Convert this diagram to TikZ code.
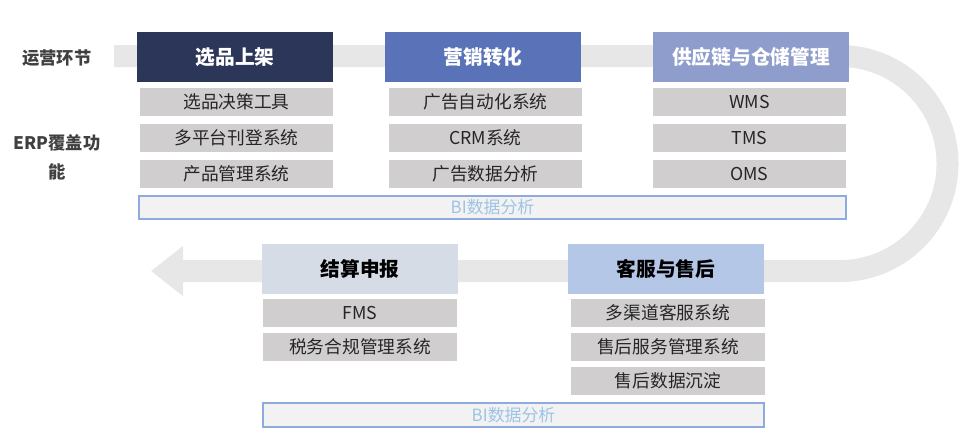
\documentclass[tikz,border=0pt]{standalone}
\usepackage{fontspec}
\setmainfont{Noto Sans CJK SC}
\usetikzlibrary{arrows.meta, positioning}

\definecolor{navyhead}{HTML}{2B3658}
\definecolor{bluehead}{HTML}{5A72B8}
\definecolor{lilahead}{HTML}{8F9DCC}
\definecolor{grayhead}{HTML}{D6DCE5}
\definecolor{skyhead}{HTML}{B4C7E7}
\definecolor{itemgray}{HTML}{D0CECE}
\definecolor{bandgray}{HTML}{E7E7E7}
\definecolor{biline}{HTML}{8FAADC}
\definecolor{bifill}{HTML}{F2F2F2}
\definecolor{bitext}{HTML}{9DC3E6}

\begin{document}
\begin{tikzpicture}[
    x=0.025cm, y=-0.025cm,
    head/.style={minimum width=4.9cm, minimum height=1.25cm, inner sep=0pt, font=\fontsize{14}{16}\selectfont\bfseries},
    item/.style={fill=itemgray, minimum width=4.825cm, minimum height=0.7cm, inner sep=0pt, text=black!85, font=\fontsize{12.6}{15}\selectfont},
    bibox/.style={draw=biline, line width=1.4pt, fill=bifill, minimum height=0.58cm, inner sep=0pt, text=bitext, font=\fontsize{12}{14}\selectfont},
    label/.style={align=center, text=black!75, font=\fontsize{12.3}{20.6}\selectfont\bfseries},
    >=Stealth
  ]
  \useasboundingbox (0,0) rectangle (972,435);

  % --- flow band behind the stages ---
  \draw[bandgray, line width=0.55cm, -{Triangle[length=0.8cm, width=1.2cm]}]
    (114,56) -- (840,56) arc[start angle=90, end angle=-90, radius=2.6875cm] -- (151,271);

  % --- row labels ---
  \node[label] (ops) at (57,58) {运营环节};
  \node[label] (erp) at (57,157) {ERP覆盖功\\能};

  % --- Stage 1: 选品上架 ---
  \node[head, fill=navyhead, text=white] (h1) at (235,57) {选品上架};
  \foreach \t [count=\i] in {选品决策工具, 多平台刊登系统, 产品管理系统} {
    \node[item] (a\i) at (236.5,66+36*\i) {\t};
  }

  % --- Stage 2: 营销转化 ---
  \node[head, fill=bluehead, text=white] (h2) at (483,57) {营销转化};
  \foreach \t [count=\i] in {广告自动化系统, CRM系统, 广告数据分析} {
    \node[item] (b\i) at (485.5,66+36*\i) {\t};
  }

  % --- Stage 3: 供应链与仓储管理 ---
  \node[head, fill=lilahead, text=white] (h3) at (751,57) {供应链与仓储管理};
  \foreach \t [count=\i] in {WMS, TMS, OMS} {
    \node[item] (c\i) at (749.5,66+36*\i) {\t};
  }

  \node[bibox, minimum width=17.675cm] (bi1) at (492.5,207.5) {BI数据分析};

  % --- Stage 4: 客服与售后 ---
  \node[head, fill=skyhead, text=black] (h5) at (666,268.5) {客服与售后};
  \foreach \t [count=\i] in {多渠道客服系统, 售后服务管理系统, 售后数据沉淀} {
    \node[item] (e\i) at (668,279+34*\i) {\t};
  }

  % --- Stage 5: 结算申报 ---
  \node[head, fill=grayhead, text=black] (h4) at (360,268.5) {结算申报};
  \foreach \t [count=\i] in {FMS, 税务合规管理系统} {
    \node[item] (d\i) at (360,279+34*\i) {\t};
  }

  \node[bibox, minimum width=12.525cm] (bi2) at (513.5,415) {BI数据分析};

\end{tikzpicture}
\end{document}
